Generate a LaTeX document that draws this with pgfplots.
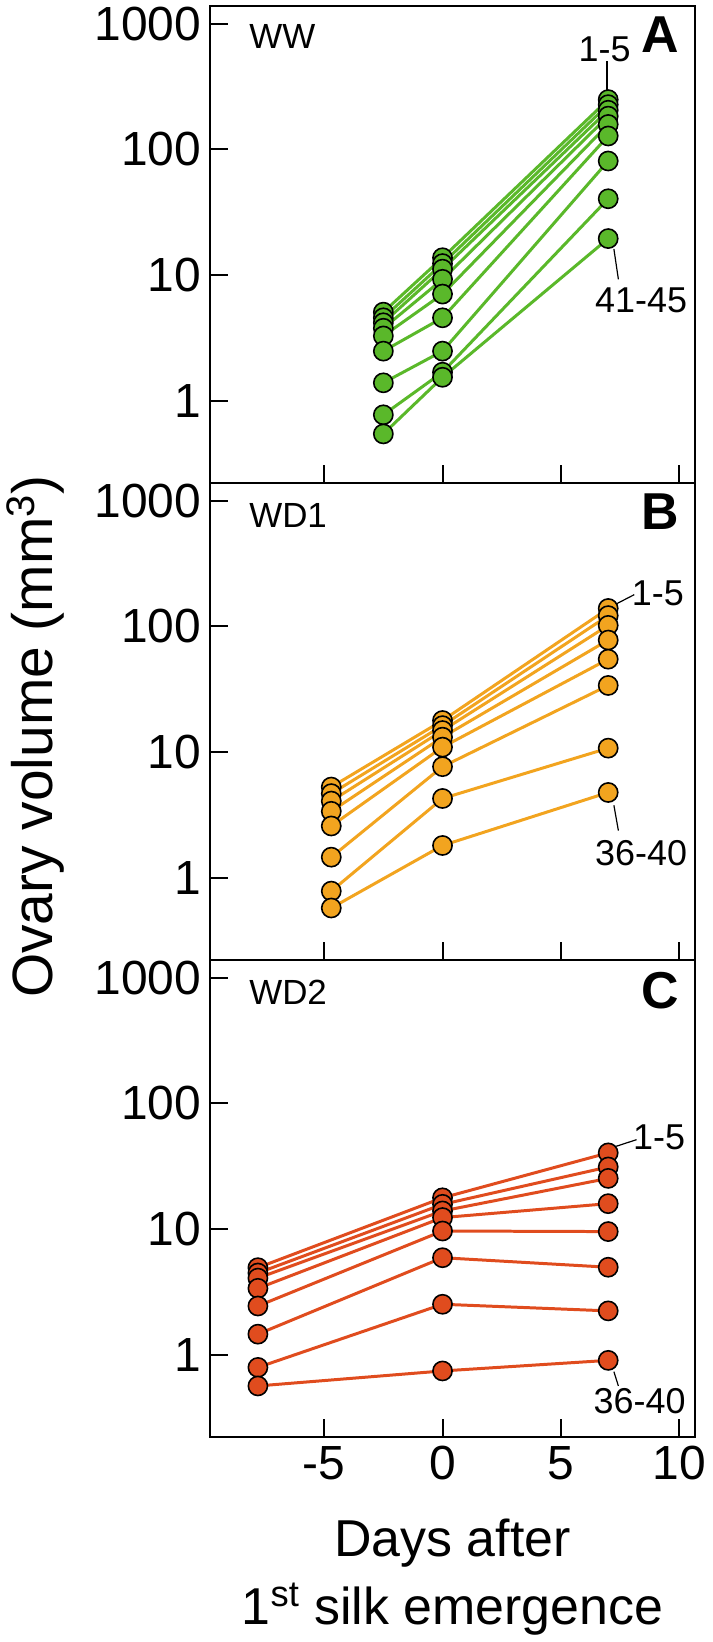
\documentclass[border=0pt]{standalone}
\usepackage{fontspec}
\setmainfont{Liberation Sans}
\usepackage{pgfplots}
\pgfplotsset{compat=1.18}
\definecolor{cGreen}{HTML}{5AB82A}
\definecolor{cOrange}{HTML}{F2A41F}
\definecolor{cRed}{HTML}{E04C1E}

\newcommand\annf{\fontsize{18}{18}\selectfont}
\newcommand\tagf{\fontsize{17.5}{17.5}\selectfont}
\newcommand\letf{\fontsize{26}{26}\selectfont\bfseries}

\pgfplotsset{
  scale only axis, width=243pt, height=239pt,
  xmin=-9.82, xmax=10.67,
  ymin=0.224, ymax=1380,
  xtick={-5,0,5,10},
  ytick={1,10,100,1000}, yticklabels={1,10,100,1000},
  tick align=inside,
  xtick pos=bottom, ytick pos=left,
  major tick length=9pt,
  axis line style={line width=1pt},
  tick style={line width=1pt, black},
  tick label style={font=\fontsize{24}{24}\selectfont},
  yticklabel style={xshift=-1pt},
  xticklabel style={yshift=-1pt},
}
\tikzset{
  ser/.style={color=#1, line width=1.5pt, mark=*, mark size=4.8pt,
    mark options={fill=#1, draw=black, line width=0.8pt}},
}

\begin{document}
\begin{tikzpicture}
\path (-103pt,2pt) rectangle (245.5pt,-819pt);

% A: WW
\begin{semilogyaxis}[at={(0pt,0pt)}, anchor=north west, xticklabels={}, yminorticks=false, clip=false]
\addplot[ser=cGreen] coordinates {(-2.5,5.1) (0,13.8) (7,249)};
\addplot[ser=cGreen] coordinates {(-2.5,4.6) (0,12.4) (7,227)};
\addplot[ser=cGreen] coordinates {(-2.5,4.2) (0,11.2) (7,205)};
\addplot[ser=cGreen] coordinates {(-2.5,3.8) (0,9.3) (7,184)};
\addplot[ser=cGreen] coordinates {(-2.5,3.3) (0,7.1) (7,158)};
\addplot[ser=cGreen] coordinates {(-2.5,2.5) (0,4.6) (7,128)};
\addplot[ser=cGreen] coordinates {(-2.5,1.4) (0,2.5) (7,81)};
\addplot[ser=cGreen] coordinates {(-2.5,0.78) (0,1.7) (7,40.6)};
\addplot[ser=cGreen] coordinates {(-2.5,0.55) (0,1.55) (7,19.6)};
\node[anchor=west, inner sep=0pt, font=\tagf] at (rel axis cs:0.08,0.936) {WW};
\node[anchor=east, inner sep=0pt, font=\letf] at (rel axis cs:0.967,0.94) {A};
\draw[line width=0.6pt] (axis cs:6.95,500) -- (axis cs:6.95,290);
\node[font=\annf] at (axis cs:6.85,630) {1-5};
\draw[line width=0.6pt] (axis cs:7.24,16.2) -- (axis cs:7.43,9.3);
\node[font=\annf] at (axis cs:8.39,6.36) {41-45};
\end{semilogyaxis}

% B: WD1
\begin{semilogyaxis}[at={(0pt,-239pt)}, anchor=north west, xticklabels={}, yminorticks=false, clip=false]
\addplot[ser=cOrange] coordinates {(-4.7,5.3) (0,17.9) (7,139)};
\addplot[ser=cOrange] coordinates {(-4.7,4.7) (0,16.3) (7,122)};
\addplot[ser=cOrange] coordinates {(-4.7,4.1) (0,14.9) (7,102)};
\addplot[ser=cOrange] coordinates {(-4.7,3.4) (0,13.2) (7,78)};
\addplot[ser=cOrange] coordinates {(-4.7,2.6) (0,11.0) (7,55)};
\addplot[ser=cOrange] coordinates {(-4.7,1.47) (0,7.7) (7,34)};
\addplot[ser=cOrange] coordinates {(-4.7,0.79) (0,4.3) (7,10.8)};
\addplot[ser=cOrange] coordinates {(-4.7,0.58) (0,1.82) (7,4.8)};
\node[anchor=west, inner sep=0pt, font=\tagf] at (rel axis cs:0.08,0.932) {WD1};
\node[anchor=east, inner sep=0pt, font=\letf] at (rel axis cs:0.967,0.94) {B};
\draw[line width=0.6pt] (axis cs:7.34,151) -- (axis cs:8.1,179);
\node[font=\annf] at (axis cs:9.1,185) {1-5};
\draw[line width=0.6pt] (axis cs:7.24,3.8) -- (axis cs:7.43,2.39);
\node[font=\annf] at (axis cs:8.39,1.59) {36-40};
\end{semilogyaxis}

% C: WD2
\begin{semilogyaxis}[at={(0pt,-478pt)}, anchor=north west, xticklabels={-5,0,5,10}, yminorticks=false, clip=false]
\addplot[ser=cRed] coordinates {(-7.8,4.96) (0,17.8) (7,40.5)};
\addplot[ser=cRed] coordinates {(-7.8,4.5) (0,15.8) (7,31.3)};
\addplot[ser=cRed] coordinates {(-7.8,4.1) (0,14.0) (7,25.4)};
\addplot[ser=cRed] coordinates {(-7.8,3.4) (0,12.4) (7,16.0)};
\addplot[ser=cRed] coordinates {(-7.8,2.46) (0,9.7) (7,9.6)};
\addplot[ser=cRed] coordinates {(-7.8,1.47) (0,5.95) (7,5.0)};
\addplot[ser=cRed] coordinates {(-7.8,0.80) (0,2.54) (7,2.25)};
\addplot[ser=cRed] coordinates {(-7.8,0.57) (0,0.75) (7,0.91)};
\node[anchor=west, inner sep=0pt, font=\tagf] at (rel axis cs:0.08,0.932) {WD2};
\node[anchor=east, inner sep=0pt, font=\letf] at (rel axis cs:0.967,0.935) {C};
\draw[line width=0.6pt] (axis cs:7.34,45.7) -- (axis cs:8.2,51.6);
\node[font=\annf] at (axis cs:9.15,53.9) {1-5};
\draw[line width=0.6pt] (axis cs:7.24,0.74) -- (axis cs:7.43,0.57);
\node[font=\annf] at (axis cs:8.33,0.43) {36-40};
\end{semilogyaxis}

\node[rotate=90, font=\fontsize{28.5}{28.5}\selectfont] at (-87.5pt,-366pt) {Ovary volume (mm\textsuperscript{3})};
\node[anchor=base, font=\fontsize{26}{26}\selectfont] at (121.5pt,-777pt) {Days after};
\node[anchor=base, font=\fontsize{26}{26}\selectfont] at (121.5pt,-811pt) {1\textsuperscript{st} silk emergence};
\end{tikzpicture}
\end{document}
